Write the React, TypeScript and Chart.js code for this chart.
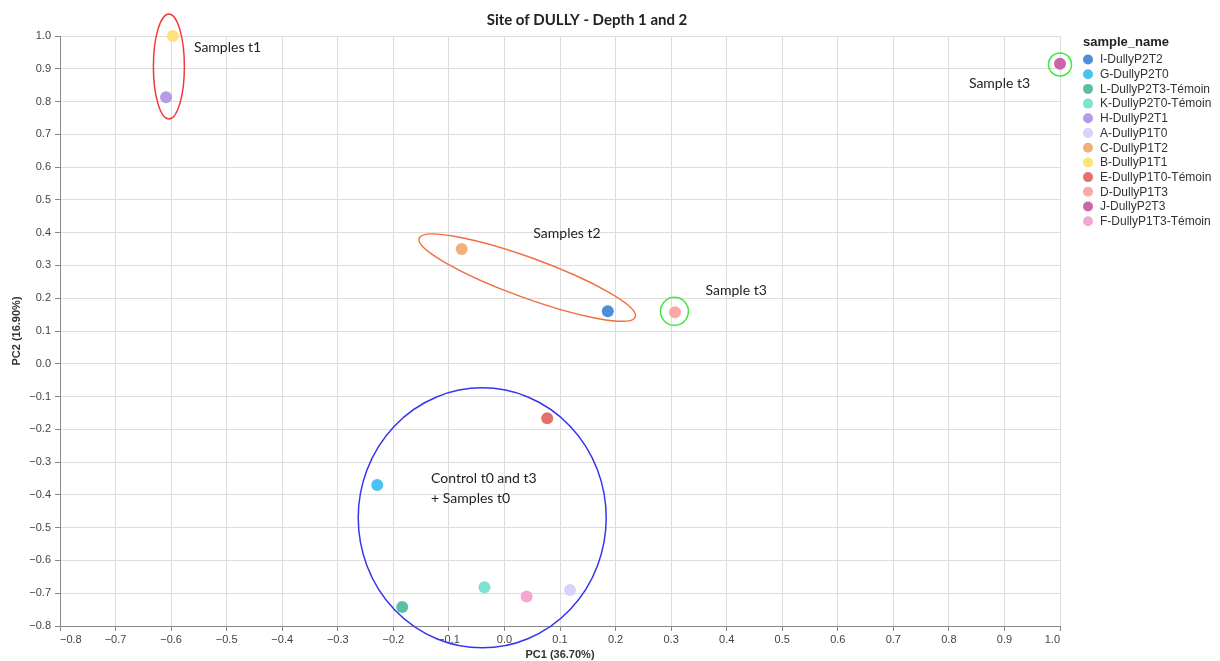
import React, { useEffect, useRef } from "react";
import { Chart, registerables } from "chart.js";

Chart.register(...registerables);

// PCA scores per sample (PC1, PC2)
const sampleNames = [
  "I-DullyP2T2",
  "G-DullyP2T0",
  "L-DullyP2T3-Témoin",
  "K-DullyP2T0-Témoin",
  "H-DullyP2T1",
  "A-DullyP1T0",
  "C-DullyP1T2",
  "B-DullyP1T1",
  "E-DullyP1T0-Témoin",
  "D-DullyP1T3",
  "J-DullyP2T3",
  "F-DullyP1T3-Témoin",
];
const pc1 = [0.186, -0.229, -0.184, -0.036, -0.609, 0.118, -0.077, -0.597, 0.077, 0.307, 1.0, 0.04];
const pc2 = [0.16, -0.37, -0.742, -0.682, 0.813, -0.69, 0.35, 1.0, -0.166, 0.157, 0.915, -0.71];
const sampleColors = [
  "#4c8fd6",
  "#4cc2f2",
  "#5bbfa8",
  "#7be3cf",
  "#b49be8",
  "#d9d3f7",
  "#f0b27a",
  "#fde27a",
  "#e4706e",
  "#fca8a6",
  "#cb67a8",
  "#f5a8cf",
];

const chartTitle = "Site of DULLY - Depth 1 and 2";
const xTitle = "PC1 (36.70%)";
const yTitle = "PC2 (16.90%)";
const legendTitle = "sample_name";

// Group outlines: centre in data units, radii in pixels, rotation in degrees
const outlines = [
  { x: -0.604, y: 0.907, rx: 15.5, ry: 52.5, rot: 0, color: "#f23a3a" },
  { x: 0.041, y: 0.263, rx: 115, ry: 20, rot: 20, color: "#f07040" },
  { x: 0.306, y: 0.16, rx: 14, ry: 14, rot: 0, color: "#3ee83e" },
  { x: 1.0, y: 0.913, rx: 11.5, ry: 11.5, rot: 0, color: "#3ee83e" },
  { x: -0.04, y: -0.47, rx: 124, ry: 130, rot: 0, color: "#3535ee" },
];

// Group notes, anchored at their left edge / vertical middle
const notes = [
  { x: -0.559, y: 0.966, text: "Samples t1" },
  { x: 0.052, y: 0.396, text: "Samples t2" },
  { x: 0.362, y: 0.223, text: "Sample t3" },
  { x: 0.836, y: 0.854, text: "Sample t3" },
  { x: -0.132, y: -0.351, text: "Control t0 and t3" },
  { x: -0.132, y: -0.412, text: "+ Samples t0" },
];

const AXIS_FONT = '"Liberation Sans", Arial, sans-serif';
const NOTE_FONT = 'Lato, "Open Sans", sans-serif';

const fmt = (v: number) => {
  const s = Math.abs(v).toFixed(1);
  return (v < -1e-9 ? "\u2212" : "") + s;
};

const overlayPlugin = {
  id: "overlay",
  afterDraw(chart: any) {
    const ctx: CanvasRenderingContext2D = chart.ctx;
    const xs = chart.scales.x;
    const ys = chart.scales.y;
    const area = chart.chartArea;
    ctx.save();

    // x tick labels, first and last flush with the ends
    ctx.font = `11px ${AXIS_FONT}`;
    ctx.fillStyle = "#444";
    ctx.textBaseline = "top";
    const ticks = xs.ticks;
    ticks.forEach((t: any, i: number) => {
      const px = xs.getPixelForValue(t.value);
      ctx.textAlign = i === 0 ? "left" : i === ticks.length - 1 ? "right" : "center";
      ctx.fillText(fmt(t.value), px, area.bottom + 8);
    });

    // axis titles
    ctx.font = `bold 11px ${AXIS_FONT}`;
    ctx.fillStyle = "#333";
    ctx.textAlign = "center";
    ctx.textBaseline = "middle";
    ctx.fillText(xTitle, (area.left + area.right) / 2, 655);
    ctx.save();
    ctx.translate(17, (area.top + area.bottom) / 2);
    ctx.rotate(-Math.PI / 2);
    ctx.fillText(yTitle, 0, 0);
    ctx.restore();

    // chart title
    ctx.font = `bold 15px ${NOTE_FONT}`;
    ctx.fillStyle = "#222";
    ctx.fillText(chartTitle, 587, 20);

    // group outlines
    outlines.forEach((o) => {
      const cx = xs.getPixelForValue(o.x);
      const cy = ys.getPixelForValue(o.y);
      ctx.beginPath();
      ctx.ellipse(cx, cy, o.rx, o.ry, (o.rot * Math.PI) / 180, 0, Math.PI * 2);
      ctx.strokeStyle = o.color;
      ctx.lineWidth = 1.5;
      ctx.stroke();
    });

    // group notes
    ctx.font = `14px ${NOTE_FONT}`;
    ctx.fillStyle = "#222";
    ctx.textAlign = "left";
    ctx.textBaseline = "middle";
    notes.forEach((n) => {
      ctx.fillText(n.text, xs.getPixelForValue(n.x), ys.getPixelForValue(n.y));
    });

    // legend
    ctx.font = `bold 13px ${AXIS_FONT}`;
    ctx.fillStyle = "#222";
    ctx.fillText(legendTitle, 1083, 42);
    ctx.font = `12px ${AXIS_FONT}`;
    sampleNames.forEach((name, i) => {
      const y = 59.5 + i * 14.7;
      ctx.beginPath();
      ctx.arc(1088, y, 5, 0, Math.PI * 2);
      ctx.fillStyle = sampleColors[i];
      ctx.fill();
      ctx.fillStyle = "#333";
      ctx.fillText(name, 1100, y + 0.5);
    });

    ctx.restore();
  },
};

export default function App() {
  const canvasRef = useRef<HTMLCanvasElement | null>(null);

  useEffect(() => {
    const canvas = canvasRef.current;
    if (!canvas) return;
    const points = pc1.map((x, i) => ({ x, y: pc2[i] }));
    const chart = new Chart(canvas, {
      type: "scatter",
      data: {
        datasets: [
          {
            label: legendTitle,
            data: points,
            pointBackgroundColor: sampleColors,
            pointBorderWidth: 0,
            pointRadius: 6,
            pointHoverRadius: 6,
            clip: false as any,
          },
        ],
      },
      options: {
        responsive: false,
        animation: false,
        events: [],
        layout: { padding: { top: 36, right: 160, left: 0, bottom: 0 } },
        plugins: {
          legend: { display: false },
          tooltip: { enabled: false },
          title: { display: false },
        },
        scales: {
          x: {
            type: "linear",
            min: -0.8,
            max: 1.0,
            ticks: { stepSize: 0.1, display: false },
            grid: { color: "#dddddd", tickColor: "#888888", tickLength: 5, lineWidth: 1 },
            border: { color: "#888888" },
            afterFit: (scale: any) => {
              scale.height = 35;
            },
          },
          y: {
            type: "linear",
            min: -0.8,
            max: 1.0,
            ticks: {
              stepSize: 0.1,
              padding: 4,
              color: "#444",
              font: { family: AXIS_FONT, size: 11 },
              callback: (v: any) => fmt(Number(v)),
            },
            grid: { color: "#dddddd", tickColor: "#888888", tickLength: 5, lineWidth: 1 },
            border: { color: "#888888" },
            afterFit: (scale: any) => {
              scale.width = 60;
            },
          },
        },
      },
      plugins: [overlayPlugin],
    });
    return () => chart.destroy();
  }, []);

  return (
    <div style={{ position: "absolute", left: 0, top: 0, width: 1220, height: 661, background: "#fff" }}>
      <canvas ref={canvasRef} width={1220} height={661} style={{ display: "block" }} />
    </div>
  );
}
